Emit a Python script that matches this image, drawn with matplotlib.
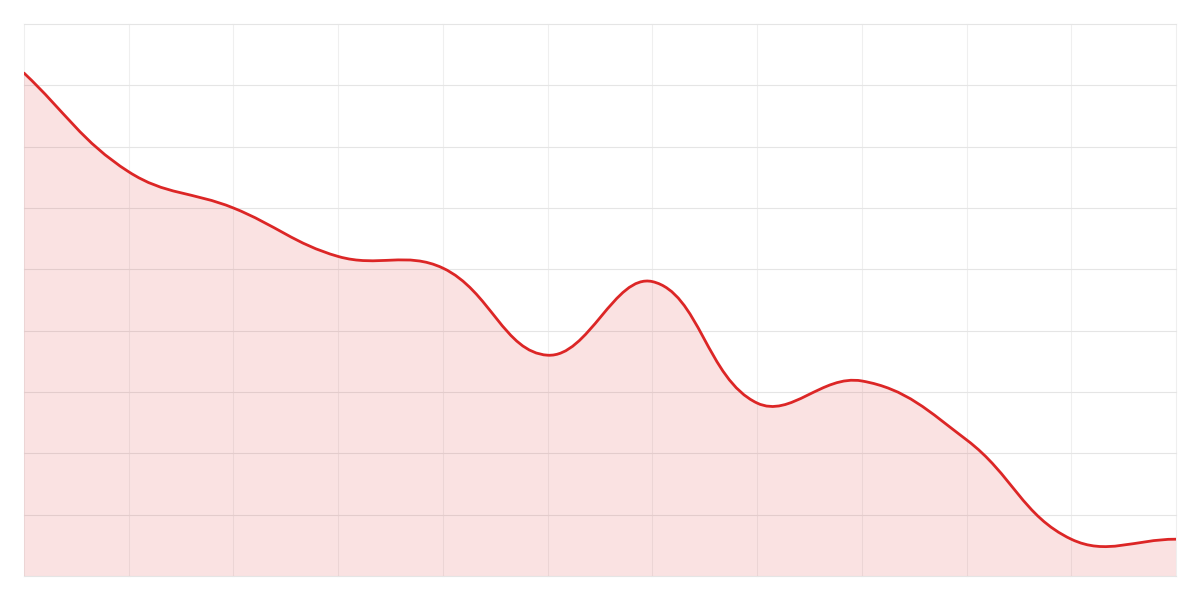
import numpy as np
import matplotlib
matplotlib.use("Agg")
import matplotlib.pyplot as plt
from matplotlib.path import Path
from matplotlib.patches import PathPatch

# Data
x_positions = list(range(12))
values = [82.0, 65.9, 60.0, 52.1, 50.2, 36.0, 48.0, 28.2, 31.8, 22.2, 6.0, 6.0]

LINE_COLOR = "#dc2626"
W, H = 1200, 600
L, B, AW, AH = 24, 24, 1152, 552
XMAX, YMAX = 11, 90

fig = plt.figure(figsize=(W / 100, H / 100), dpi=100)
ax = fig.add_axes([L / W, B / H, AW / W, AH / H])
ax.set_xlim(0, XMAX)
ax.set_ylim(0, YMAX)

# Chart.js-like spline (tension 0.4) computed in pixel space
sx, sy = AW / XMAX, AH / YMAX
P = np.array([[x * sx, v * sy] for x, v in zip(x_positions, values)])
n = len(P)
tension = 0.4
cp_prev = np.zeros_like(P)
cp_next = np.zeros_like(P)
for i in range(n):
    prev = P[i - 1] if i > 0 else P[i]
    cur = P[i]
    nxt = P[i + 1] if i < n - 1 else P[i]
    d01 = np.hypot(*(cur - prev))
    d12 = np.hypot(*(nxt - cur))
    tot = d01 + d12
    s01 = d01 / tot if tot else 0
    s12 = d12 / tot if tot else 0
    cp_prev[i] = cur - tension * s01 * (nxt - prev)
    cp_next[i] = cur + tension * s12 * (nxt - prev)

def to_data(p):
    return (p[0] / sx, p[1] / sy)

verts = [to_data(P[0])]
codes = [Path.MOVETO]
for i in range(n - 1):
    verts += [to_data(cp_next[i]), to_data(cp_prev[i + 1]), to_data(P[i + 1])]
    codes += [Path.CURVE4] * 3

line_path = Path(verts, codes)
fill_verts = verts + [(x_positions[-1], 0), (x_positions[0], 0), verts[0]]
fill_codes = codes + [Path.LINETO, Path.LINETO, Path.CLOSEPOLY]
fill_path = Path(fill_verts, fill_codes)

ax.add_patch(PathPatch(fill_path, facecolor=LINE_COLOR, alpha=0.13, edgecolor="none", zorder=2))
ax.add_patch(PathPatch(line_path, facecolor="none", edgecolor=LINE_COLOR, lw=2.0, zorder=3,
                       capstyle="round", joinstyle="round"))

# Grid
for xv in x_positions:
    ax.axvline(xv, color="#efefef", lw=0.8, zorder=1, clip_on=False)
for yv in range(0, YMAX + 1, 10):
    ax.axhline(yv, color="#e5e5e5", lw=0.8, zorder=1, clip_on=False)

ax.set_xticks([])
ax.set_yticks([])
for s in ax.spines.values():
    s.set_visible(False)
ax.set_facecolor("white")

fig.savefig("out.png", dpi=100, facecolor="white")
